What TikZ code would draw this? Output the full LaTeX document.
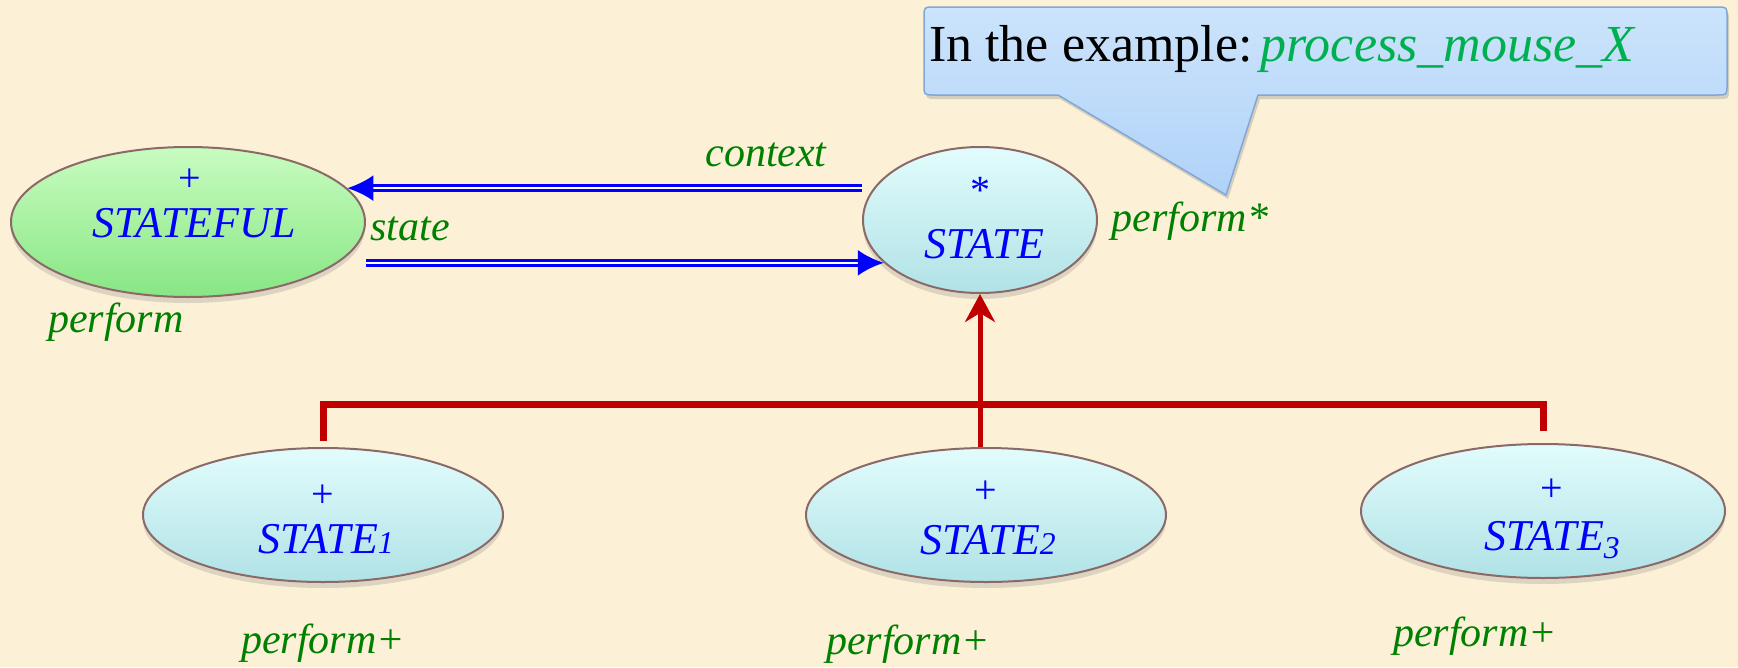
\documentclass[tikz,border=0pt]{standalone}
\usepackage{fontspec}
\usepackage{graphicx}
\setmainfont{Liberation Serif}
\usetikzlibrary{arrows.meta,shapes.geometric,shadows}
\definecolor{bg}{RGB}{252,241,214}
\definecolor{tblue}{RGB}{0,0,255}
\definecolor{tgreen}{RGB}{0,128,0}
\definecolor{cgreen}{RGB}{0,176,80}
\definecolor{dred}{RGB}{192,0,0}
\definecolor{ellbd}{RGB}{140,105,105}
\definecolor{cyT}{RGB}{226,252,252}
\definecolor{cyB}{RGB}{176,226,230}
\definecolor{grT}{RGB}{200,252,192}
\definecolor{grB}{RGB}{136,230,132}
\definecolor{coT}{RGB}{204,228,252}
\definecolor{coB}{RGB}{176,210,248}
\definecolor{cobd}{RGB}{130,166,214}
\newcommand\osfa[1]{\scalebox{0.72}{#1}}
\newcommand\osfb[1]{\raisebox{-0.2em}{\scalebox{0.72}{#1}}}
\tikzset{
  cls/.style={ellipse, draw=ellbd, line width=2pt, inner sep=0pt,
    top color=cyT, bottom color=cyB,
    drop shadow={opacity=0.25, shadow xshift=0pt, shadow yshift=-6pt}},
  grcls/.style={cls, top color=grT, bottom color=grB},
  cname/.style={text=tblue, font=\fontsize{44}{50}\selectfont\itshape, inner sep=0pt, anchor=base},
  sym/.style={text=tblue, font=\fontsize{40}{46}\selectfont, inner sep=0pt},
  feat/.style={text=tgreen, font=\fontsize{42}{48}\selectfont\itshape, inner sep=0pt, anchor=base},
  dbl/.style={draw=tblue, line width=3pt, double=white, double distance=2.5pt,
    -{Latex[length=26pt,width=26pt]}},
  bus/.style={draw=dred, line width=7pt},
  inharrow/.style={draw=dred, line width=5pt, -{Stealth[length=28pt,width=30pt,inset=9pt]}},
}
\begin{document}
\begin{tikzpicture}[x=1pt,y=-1pt]
\useasboundingbox (0,0) rectangle (1738,667);
\fill[bg] (0,0) rectangle (1738,667);

% callout
\path[draw=cobd, line width=1.5pt, top color=coT, bottom color=coB,
  drop shadow={opacity=0.3, shadow xshift=2pt, shadow yshift=-4pt}]
  (934,7) -- (1717,7) .. controls (1727,7) .. (1727,17) -- (1727,85)
  .. controls (1727,95) .. (1717,95) -- (1258,95) -- (1226,195) -- (1058,95)
  -- (934,95) .. controls (924,95) .. (924,85) -- (924,17)
  .. controls (924,7) .. (934,7) -- cycle;
\node[inner sep=0pt, anchor=base west, font=\fontsize{52}{60}\selectfont] (callout) at (929,61)
  {In the example:\hspace{8pt}\textcolor{cgreen}{\textit{process\_mouse\_X}}};

% class ellipses
\node[grcls, minimum width=354pt, minimum height=150pt] (sf) at (188,222) {};
\node[cls, minimum width=234pt, minimum height=146pt] (st) at (980,220) {};
\node[cls, minimum width=360pt, minimum height=134pt] (s1) at (323,515) {};
\node[cls, minimum width=360pt, minimum height=134pt] (s2) at (986,515) {};
\node[cls, minimum width=364pt, minimum height=134pt] (s3) at (1543,511) {};

% texts in ellipses
\node[sym] (sf-s) at (190,180) {+};
\node[cname] (sf-n) at (194,237) {STATEFUL};
\node[sym] (st-s) at (980,190) {*};
\node[cname] (st-n) at (984,258) {STATE};
\node[sym] (s1-s) at (323,496) {+};
\node[cname] (s1-n) at (326,553) {STATE\osfa{1}};
\node[sym] (s2-s) at (986,492) {+};
\node[cname] (s2-n) at (988,554) {STATE\osfa{2}};
\node[sym] (s3-s) at (1552,490) {+};
\node[cname] (s3-n) at (1552,550) {STATE\osfb{3}};

% feature labels
\node[feat] (f-sf) at (116,332) {perform};
\node[feat] (f-st) at (1190,231) {perform*};
\node[feat] (f-s1) at (323,653) {perform+};
\node[feat] (f-s2) at (908,654) {perform+};
\node[feat] (f-s3) at (1475,646) {perform+};
\node[feat] (l-ctx) at (766,166) {context};
\node[feat] (l-state) at (410,240) {state};

% client arrows
\draw[dbl] (sf.12 -| st.west) -- (sf.12);
\draw[dbl] (st.204 -| sf.east) -- (st.204);

% inheritance
\draw[bus] ([yshift=6pt]s1.north) -- ++(0,-37) -| ([yshift=12pt]s3.north);
\draw[inharrow] (s2.north -| st.south) -- (st.south);
\end{tikzpicture}
\end{document}
